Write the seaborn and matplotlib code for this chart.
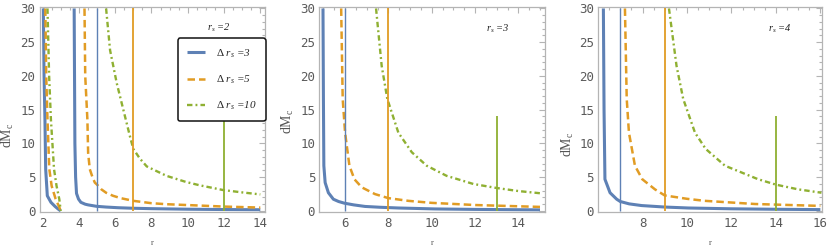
import matplotlib
matplotlib.use("Agg")
import matplotlib.pyplot as plt
from matplotlib.ticker import MultipleLocator
import seaborn as sns

# ---------------- data ----------------
rs_values = [2, 3, 4]
delta_labels = [r"$\Delta$ $r_s$ =3", r"$\Delta$ $r_s$ =5", r"$\Delta$ $r_s$ =10"]
panel_titles = [r"$r_s$ =2", r"$r_s$ =3", r"$r_s$ =4"]

# panel 1 (r_s = 2): two branches per curve
p1_blue_a_x = [2.04, 2.08, 2.13, 2.17, 2.26, 2.46, 2.68, 2.85, 3.0]
p1_blue_a_y = [30, 20, 13.5, 6.2, 2.25, 1.28, 0.69, 0.3, 0.0]
p1_orange_a_x = [2.15, 2.2, 2.27, 2.37, 2.5, 2.72, 2.9, 3.0]
p1_orange_a_y = [30, 20, 13.5, 6.2, 3.7, 1.76, 0.69, 0.0]
p1_green_a_x = [2.27, 2.36, 2.46, 2.63, 2.77, 2.92, 3.0]
p1_green_a_y = [30, 20, 13.5, 6.2, 3.7, 1.76, 0.0]
p1_blue_b_x = [3.74, 3.76, 3.78, 3.82, 3.87, 3.98, 4.11, 4.35, 4.51, 4.97, 5.5, 6.16, 7, 8, 10, 12, 14]
p1_blue_b_y = [30, 20, 10, 5, 2.6, 1.76, 1.28, 1.0, 0.9, 0.69, 0.58, 0.48, 0.4, 0.34, 0.26, 0.21, 0.18]
p1_orange_b_x = [4.31, 4.35, 4.47, 4.51, 4.6, 4.75, 4.88, 5.0, 5.24, 5.5, 5.88, 6.3, 7.0, 8.0, 8.83, 10.66, 12, 14]
p1_orange_b_y = [30, 20, 13.5, 8.6, 6.2, 5.0, 4.2, 3.9, 3.2, 2.7, 2.25, 1.9, 1.5, 1.15, 1.0, 0.8, 0.65, 0.5]
p1_green_b_x = [5.5, 5.72, 6.09, 6.45, 6.82, 7.0, 7.35, 7.74, 8.83, 9.9, 10.66, 11.95, 13.0, 14.0]
p1_green_b_y = [30, 23.8, 18.9, 15, 11.0, 9.2, 7.8, 6.6, 5.2, 4.3, 3.8, 3.1, 2.75, 2.45]

# panel 2 (r_s = 3)
p2_blue_x = [4.98, 5.0, 5.02, 5.08, 5.23, 5.46, 5.7, 5.97, 6.4, 6.92, 7.6, 8.46, 10.15, 12, 15]
p2_blue_y = [30, 16.6, 6.7, 4.2, 2.7, 1.74, 1.4, 1.15, 0.9, 0.67, 0.55, 0.44, 0.3, 0.23, 0.16]
p2_orange_x = [5.82, 5.89, 6.0, 6.2, 6.43, 6.77, 7.38, 8.0, 8.92, 10.0, 12, 15]
p2_orange_y = [30, 16.6, 11.6, 6.7, 4.7, 3.5, 2.5, 1.9, 1.5, 1.2, 0.88, 0.6]
p2_green_x = [7.43, 7.69, 7.95, 8.46, 9.08, 9.77, 10.69, 11.92, 13.0, 14.0, 15.08]
p2_green_y = [30, 21.5, 16.6, 11.6, 8.7, 6.7, 5.2, 4.0, 3.4, 2.95, 2.6]

# panel 3 (r_s = 4)
p3_blue_x = [6.24, 6.27, 6.31, 6.54, 6.84, 7.0, 7.4, 7.96, 9, 10.06, 12, 14, 16]
p3_blue_y = [30, 15, 4.7, 2.7, 1.74, 1.4, 1.05, 0.8, 0.58, 0.44, 0.32, 0.25, 0.2]
p3_orange_x = [7.21, 7.29, 7.39, 7.66, 7.99, 8.56, 9.0, 10.0, 10.8, 13.06, 16]
p3_orange_y = [30, 16.6, 11.6, 6.7, 4.7, 3.2, 2.3, 1.8, 1.5, 1.03, 0.75]
p3_green_x = [9.19, 9.53, 9.83, 10.36, 10.84, 11.71, 13.2, 14.0, 15.0, 16.05]
p3_green_y = [30, 21.5, 16.6, 11.6, 9.2, 6.7, 4.7, 3.9, 3.2, 2.7]

# vertical marker lines (r = r_s + delta r_s) and their heights
vline_x = [[5, 7, 12], [6, 8, 13], [7, 9, 14]]
vline_top = [30, 30, 14]

x_ticks = [[2, 4, 6, 8, 10, 12, 14], [6, 8, 10, 12, 14], [8, 10, 12, 14, 16]]
x_limits = [(1.83, 14.26), (4.81, 15.23), (6.01, 16.06)]
y_ticks = [0, 5, 10, 15, 20, 25, 30]

# ---------------- styling ----------------
sns.set_style("white")
plt.rcParams["font.family"] = ["DejaVu Sans"]
plt.rcParams["mathtext.fontset"] = "custom"
plt.rcParams["mathtext.rm"] = "Liberation Serif"
plt.rcParams["mathtext.it"] = "Liberation Serif:italic"

BLUE = "#5E81B5"
ORANGE = "#E19C24"
GREEN = "#8FB032"
colors = [BLUE, ORANGE, GREEN]
curve_styles = [
    dict(lw=2.2, ls="-"),
    dict(lw=1.8, ls=(0, (3.0, 1.6))),
    dict(lw=1.7, ls=(0, (2.3, 1.3, 0.8, 1.3))),
]
vline_lw = [1.0, 1.3, 1.3]
FRAME = "#b4b4b4"
TICKLAB = "#5a5a5a"

fig = plt.figure(figsize=(8.3, 2.5), dpi=100)
axes_rects = [
    [0.0476, 0.154, 0.2717, 0.819],
    [0.3847, 0.154, 0.2719, 0.819],
    [0.7208, 0.154, 0.2692, 0.819],
]

panel_curves = [
    [[(p1_blue_a_x, p1_blue_a_y), (p1_blue_b_x, p1_blue_b_y)],
     [(p1_orange_a_x, p1_orange_a_y), (p1_orange_b_x, p1_orange_b_y)],
     [(p1_green_a_x, p1_green_a_y), (p1_green_b_x, p1_green_b_y)]],
    [[(p2_blue_x, p2_blue_y)], [(p2_orange_x, p2_orange_y)], [(p2_green_x, p2_green_y)]],
    [[(p3_blue_x, p3_blue_y)], [(p3_orange_x, p3_orange_y)], [(p3_green_x, p3_green_y)]],
]

ylabel_pos = [(-0.106, 0.37), (-0.103, 0.44), (-0.100, 0.33)]
title_pos = [(0.796, 0.895), (0.79, 0.891), (0.813, 0.891)]

for pi in range(3):
    ax = fig.add_axes(axes_rects[pi])
    for ci in range(3):
        branches = panel_curves[pi][ci]
        for bi, (bx, by) in enumerate(branches):
            lab = delta_labels[ci] if (pi == 0 and bi == len(branches) - 1) else None
            sns.lineplot(x=bx, y=by, ax=ax, color=colors[ci], sort=False,
                         estimator=None, label=lab, solid_capstyle="butt",
                         dash_capstyle="butt", **curve_styles[ci])
    for vi in range(3):
        ax.vlines(vline_x[pi][vi], 0, vline_top[vi], color=colors[vi], lw=vline_lw[vi], zorder=3)

    ax.set_xlim(*x_limits[pi])
    ax.set_ylim(-0.08, 30.25)
    ax.set_xticks(x_ticks[pi])
    ax.set_yticks(y_ticks)
    ax.xaxis.set_minor_locator(MultipleLocator(0.5))
    ax.yaxis.set_minor_locator(MultipleLocator(1))
    ax.tick_params(which="both", direction="in", top=True, right=True, color=FRAME, width=0.8)
    ax.tick_params(which="major", length=4)
    ax.tick_params(which="minor", length=2)
    ax.tick_params(axis="x", which="major", labelsize=9, labelcolor=TICKLAB, pad=4)
    ax.tick_params(axis="y", which="major", labelsize=9, labelcolor=TICKLAB, pad=3)
    for lbl in ax.get_xticklabels() + ax.get_yticklabels():
        lbl.set_family("DejaVu Sans Mono")
    for sp in ax.spines.values():
        sp.set_color(FRAME)
        sp.set_linewidth(0.9)

    ax.set_ylabel(r"dM$_\mathrm{c}$", family="Liberation Serif", fontsize=10, color="#555555")
    ax.yaxis.set_label_coords(*ylabel_pos[pi])
    ax.set_xlabel("r", family="Liberation Serif", fontsize=6, color="#555555")
    ax.xaxis.set_label_coords(0.5, -0.135)

    ax.text(title_pos[pi][0], title_pos[pi][1], panel_titles[pi], transform=ax.transAxes,
            ha="center", va="center", family="Liberation Serif", style="italic",
            fontsize=7.5, color="#222222")

    if pi == 0:
        leg = ax.legend(loc="upper left", bbox_to_anchor=(0.615, 0.846),
                        prop=dict(family="Liberation Serif", style="italic", size=8),
                        frameon=True, fancybox=True, edgecolor="#111111", framealpha=1,
                        handlelength=1.6, handletextpad=1.0, labelspacing=1.25,
                        borderpad=0.8, borderaxespad=0.0)
        leg.get_frame().set_linewidth(1.1)
    else:
        lg = ax.get_legend()
        if lg is not None:
            lg.remove()

fig.savefig("out.png", dpi=100)
